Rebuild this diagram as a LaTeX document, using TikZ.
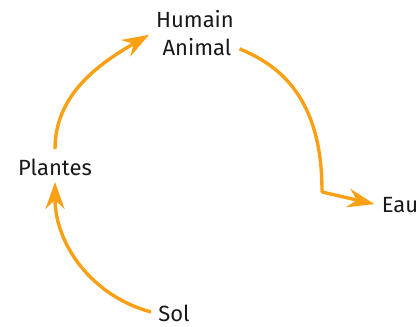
\documentclass[tikz,border=0pt]{standalone}
\usepackage{fontspec}
\setmainfont{Fira Sans}
\usetikzlibrary{arrows.meta}
\definecolor{cycleorange}{RGB}{250,160,20}

\begin{document}
\begin{tikzpicture}[x=1pt,y=1pt,>={Stealth[length=27pt,width=19pt,inset=9pt]},
  every node/.style={font=\fontsize{22}{26}\selectfont,text=black!90},
  flow/.style={->,draw=cycleorange,line width=3.4pt}]
\useasboundingbox (0,0) rectangle (419,-326);
\node (hum) at (195,-19) {Humain};
\node (ani) at (197,-47) {Animal};
\node (pla) at (55,-167) {Plantes};
\node (sol) at (174,-313) {Sol};
\node (eau) at (400,-205) {Eau};
\coordinate (bend) at (322,-192);
\draw[flow,shorten <=4pt,shorten >=3pt] (sol.west) to[out=165,in=-90] (pla.south);
\draw[flow,shorten <=6pt] (pla.north) to[out=90,in=210] ([xshift=-10pt]ani.north west);
\draw[flow,shorten <=5pt,shorten >=4pt,rounded corners=1pt] (ani.east) to[out=-22,in=90,out looseness=0.85,in looseness=1.3] (bend) -- (eau.west);
\end{tikzpicture}
\end{document}
